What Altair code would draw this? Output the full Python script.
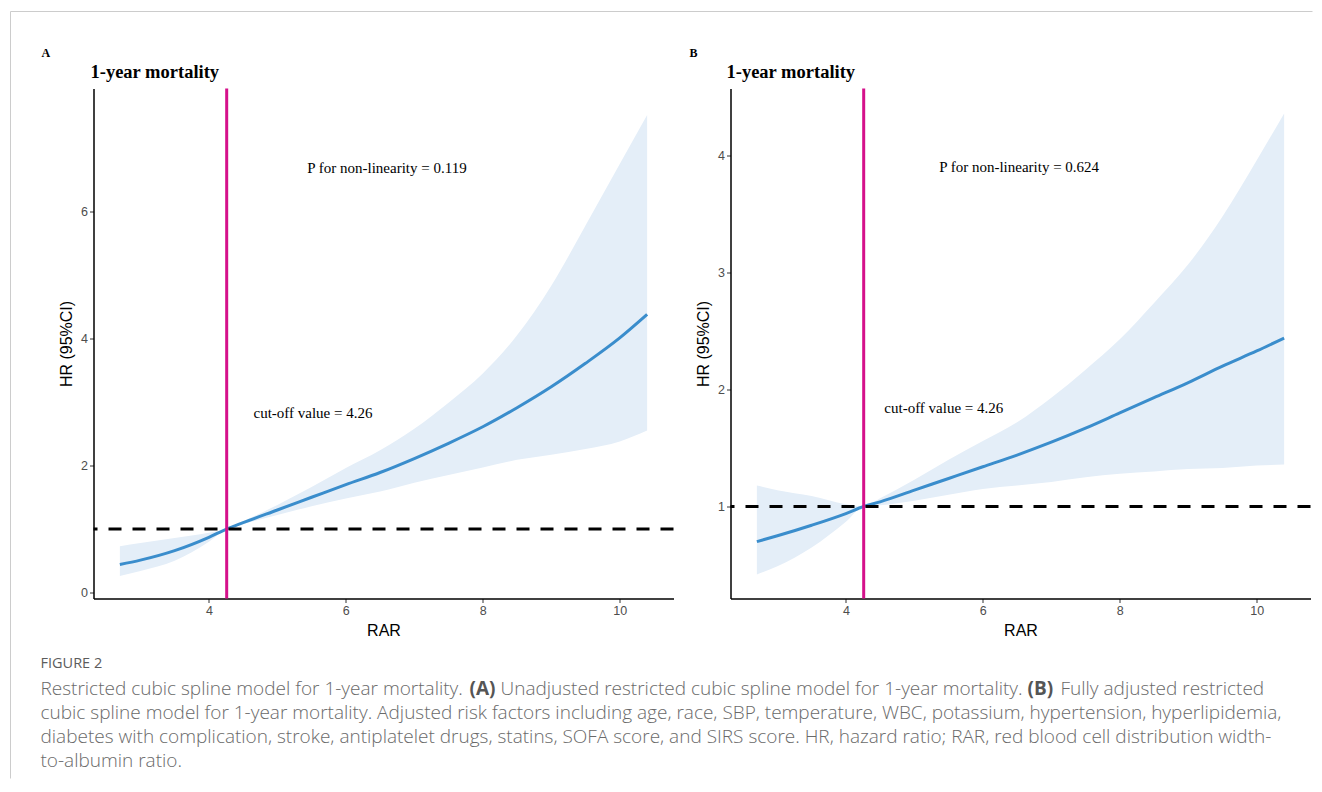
import altair as alt
import pandas as pd

# ---------------- data ----------------
rar = [2.7, 3.0, 3.5, 4.0, 4.26, 4.5, 5.0, 5.5, 6.0, 6.5, 7.0, 7.5, 8.0, 8.5, 9.0, 9.5, 10.0, 10.4]

a_hr = [0.44, 0.51, 0.66, 0.87, 1.00, 1.10, 1.30, 1.50, 1.70, 1.89, 2.11, 2.35, 2.61, 2.91, 3.24, 3.61, 4.01, 4.38]
a_hi = [0.73, 0.78, 0.86, 0.94, 1.00, 1.12, 1.38, 1.66, 1.96, 2.24, 2.58, 2.99, 3.45, 4.05, 4.83, 5.78, 6.75, 7.52]
a_lo = [0.26, 0.34, 0.50, 0.80, 1.00, 1.08, 1.22, 1.36, 1.48, 1.59, 1.73, 1.85, 1.97, 2.09, 2.17, 2.26, 2.38, 2.55]

b_hr = [0.70, 0.75, 0.84, 0.94, 1.00, 1.04, 1.14, 1.24, 1.34, 1.44, 1.55, 1.67, 1.80, 1.93, 2.06, 2.20, 2.33, 2.44]
b_hi = [1.18, 1.14, 1.09, 1.02, 1.00, 1.07, 1.23, 1.40, 1.56, 1.72, 1.93, 2.17, 2.43, 2.74, 3.07, 3.48, 3.96, 4.36]
b_lo = [0.42, 0.49, 0.65, 0.87, 1.00, 1.01, 1.05, 1.10, 1.15, 1.18, 1.21, 1.25, 1.28, 1.30, 1.32, 1.33, 1.35, 1.36]

cutoff = 4.26
ref_hr = 1
x_ticks = [4, 6, 8, 10]
a_ticks = [0, 2, 4, 6]
b_ticks = [1, 2, 3, 4]
a_ptext = "P for non-linearity = 0.119"
b_ptext = "P for non-linearity = 0.624"
cut_text = "cut-off value = 4.26"
panel_title = "1-year mortality"

caption_head = "FIGURE 2"
cap1_parts = ["Restricted cubic spline model for 1-year mortality.", "(A)",
              "Unadjusted restricted cubic spline model for 1-year mortality.", "(B)",
              "Fully adjusted restricted"]
cap_lines = [
    "cubic spline model for 1-year mortality. Adjusted risk factors including age, race, SBP, temperature, WBC, potassium, hypertension, hyperlipidemia,",
    "diabetes with complication, stroke, antiplatelet drugs, statins, SOFA score, and SIRS score. HR, hazard ratio; RAR, red blood cell distribution width-",
    "to-albumin ratio.",
]

# ---------------- styling ----------------
W, H = 580, 510
BAND = "#e4eef8"
LINE = "#3a8dcc"
MAG = "#d5118b"
SERIF = "Liberation Serif"
SANS = "Liberation Sans"
CAPF = "Open Sans"
CAPC = "#6a6a6a"
CAPS = 19

xscale = alt.Scale(domain=[2.315, 10.785], nice=False, zero=False)


def axis_x():
    return alt.Axis(values=x_ticks, title="RAR", grid=False, titleFont=SANS, titleFontSize=16,
                    titleFontWeight="normal", titleColor="black", labelFont=SANS, labelFontSize=12.5,
                    labelColor="#4d4d4d", tickColor="#333333", tickSize=4, domainColor="black",
                    domainWidth=1.5, labelPadding=2, titlePadding=5)


def axis_y(ticks):
    return alt.Axis(values=ticks, title="HR (95%CI)", grid=False, titleFont=SANS, titleFontSize=16,
                    titleFontWeight="normal", titleColor="black", labelFont=SANS, labelFontSize=12.5,
                    labelColor="#4d4d4d", tickColor="#333333", tickSize=4, domainColor="black",
                    domainWidth=1.5, labelPadding=2, titlePadding=6)


def pix_text(text, x, y, **kw):
    return alt.Chart(pd.DataFrame({"t": [text]})).mark_text(**kw).encode(
        x=alt.value(x), y=alt.value(y), text="t:N")


def panel(hr, lo, hi, ydom, yticks, ptext, p_xy, c_xy, letter, letter_x, title_x, extra=None):
    yscale = alt.Scale(domain=ydom, nice=False, zero=False)

    def X(f):
        return alt.X(f, scale=xscale, axis=axis_x(), title="RAR")

    def Y(f):
        return alt.Y(f, scale=yscale, axis=axis_y(yticks), title="HR (95%CI)")

    df = pd.DataFrame({"RAR": rar, "HR": hr, "lo": lo, "hi": hi})
    base = alt.Chart(df)
    band = base.mark_area(color=BAND, opacity=1, interpolate="monotone").encode(
        x=X("RAR:Q"), y=Y("lo:Q"), y2="hi:Q")
    line = base.mark_line(color=LINE, strokeWidth=3, interpolate="monotone").encode(
        x=X("RAR:Q"), y=Y("HR:Q"))
    hline = alt.Chart(pd.DataFrame({"y": [ref_hr]})).mark_rule(
        color="black", strokeWidth=3, strokeDash=[13, 11]).encode(y=Y("y:Q"))
    vline = alt.Chart(pd.DataFrame({"x": [cutoff]})).mark_rule(
        color=MAG, strokeWidth=3).encode(x=X("x:Q"))
    ann = alt.Chart(pd.DataFrame({"x": [p_xy[0], c_xy[0]], "y": [p_xy[1], c_xy[1]],
                                  "t": [ptext, cut_text]})).mark_text(
        font=SERIF, fontSize=15, color="black").encode(x=X("x:Q"), y=Y("y:Q"), text="t:N")
    lt = pix_text(letter, letter_x, -36, font=SERIF, fontSize=12, fontWeight="bold",
                  align="left", baseline="middle", color="black")
    tt = pix_text(panel_title, title_x, -11, font=SERIF, fontSize=18.5, fontWeight="bold",
                  align="left", baseline="alphabetic", color="black")
    layers = [band, line, hline, vline, ann, lt, tt]
    if extra:
        layers += extra
    return alt.layer(*layers).properties(width=W, height=H)


# caption + border (placed in panel A's coordinate frame, left of / below it)
border_top = alt.Chart(pd.DataFrame({"a": [0]})).mark_rule(color="#cccccc", strokeWidth=1).encode(
    x=alt.value(-83), x2=alt.value(1219), y=alt.value(-77))
border_left = alt.Chart(pd.DataFrame({"a": [0]})).mark_rule(color="#cccccc", strokeWidth=1).encode(
    x=alt.value(-83), y=alt.value(-77), y2=alt.value(690))

cap = [border_top, border_left,
       pix_text(caption_head, -53, 575, font=CAPF, fontSize=14.5, color="#5c5c5c",
                align="left", baseline="middle")]
cap1_x = [-53, 376, 407, 934, 967]
for i, (txt, xx) in enumerate(zip(cap1_parts, cap1_x)):
    cap.append(pix_text(txt, xx, 600, font=CAPF, fontSize=CAPS,
                        color=CAPC if i % 2 == 0 else "#555555",
                        fontWeight=300 if i % 2 == 0 else "bold",
                        align="left", baseline="middle"))
for k, txt in enumerate(cap_lines):
    cap.append(pix_text(txt, -53, 624 + 24 * k, font=CAPF, fontSize=CAPS, color=CAPC,
                        fontWeight=300, align="left", baseline="middle"))

pa = panel(a_hr, a_lo, a_hi, [-0.094, 7.937], a_ticks, a_ptext, (6.6, 6.69), (5.52, 2.83),
           "A", -52, -3, extra=cap)
pb = panel(b_hr, b_lo, b_hi, [0.214, 4.573], b_ticks, b_ptext, (6.53, 3.90), (5.43, 1.84),
           "B", -41, -4)

chart = alt.hconcat(pa, pb, spacing=57, bounds="flush").properties(
    padding={"left": 1.5, "top": 2.5, "right": 0, "bottom": 0}, background="white"
).configure_view(strokeWidth=0, stroke="transparent")

chart.save("out.html", embed_options={"renderer": "svg", "actions": False})
